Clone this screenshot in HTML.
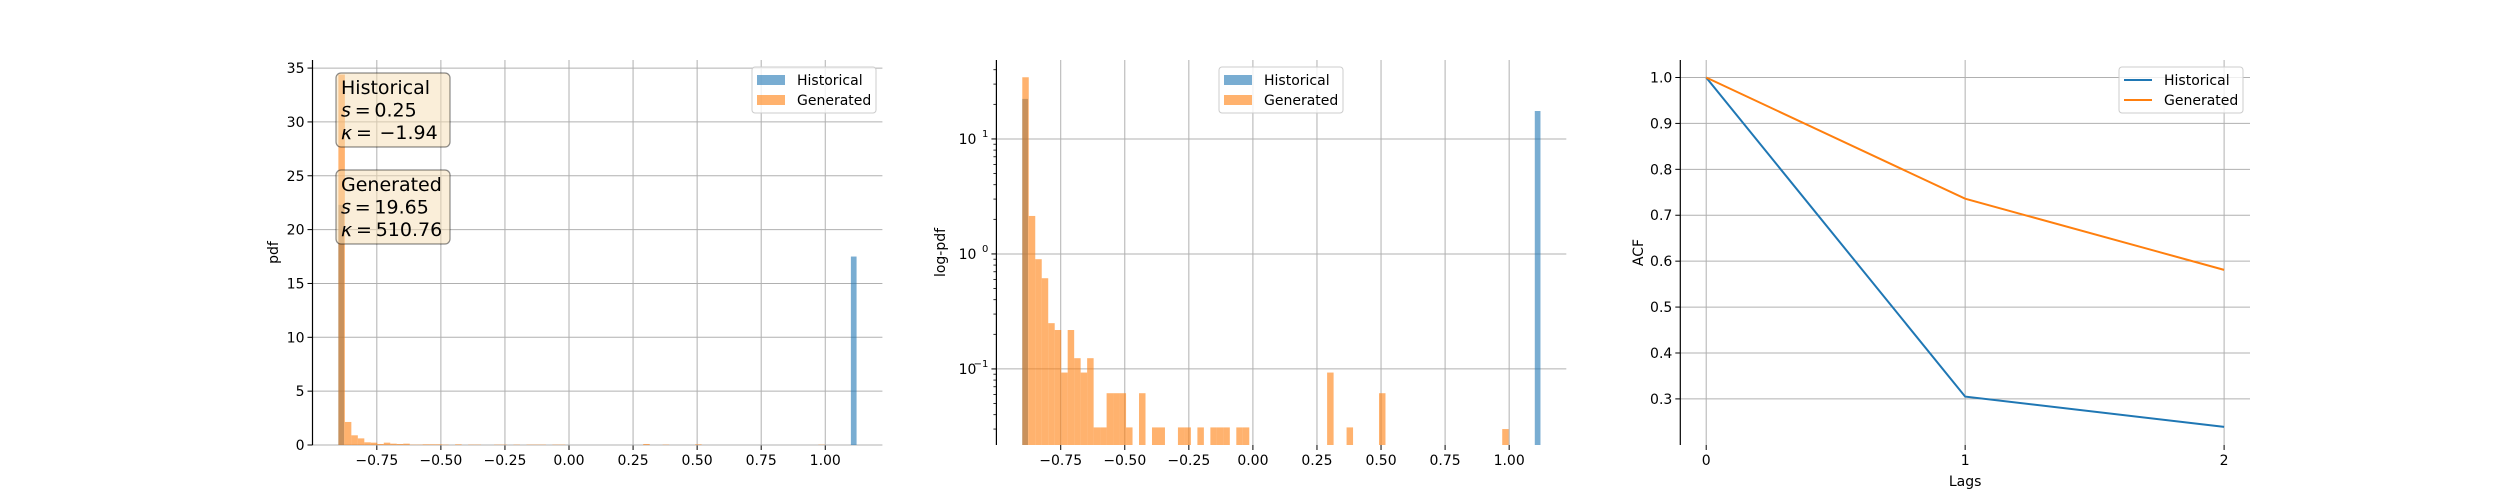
<!DOCTYPE html>
<html><head><meta charset="utf-8"><style>
html,body{margin:0;padding:0;background:#fff;}
svg{display:block;font-family:"DejaVu Sans","Liberation Sans",sans-serif;}
</style></head><body>
<svg id="fig" width="2500" height="500" viewBox="0 0 2500 500" xmlns="http://www.w3.org/2000/svg">
<rect x="0" y="0" width="2500" height="500" fill="#fff"/>
</svg>
<script>
// ---- data ----
const genStart = -0.9;
const genBinWidth = 0.02531;
const genValues = [34.4,2.14,0.90,0.615,0.25,0.218,0.093,0.218,0.124,0.093,0.124,0.031,0.031,0.0615,0.0615,0.0615,0.031,0,0.0615,0,0.031,0.031,0,0,0.031,0.031,0,0.031,0,0.031,0.031,0.031,0,0.031,0.031,0,0,0,0,0,0,0,0,0,0,0,0,0.093,0,0,0.031,0,0,0,0,0.0615,0,0,0,0,0,0,0,0,0,0,0,0,0,0,0,0,0,0,0.030];
const histLefts = [-0.9, 1.1];
const histValues = [22.3, 17.5];
const histBinWidth = 0.0222;
const xTicks = [-0.75,-0.5,-0.25,0,0.25,0.5,0.75,1.0];
const xTickLabels = ["−0.75","−0.50","−0.25","0.00","0.25","0.50","0.75","1.00"];
const pdfTicks = [0,5,10,15,20,25,30,35];
const logTicks = [0.1,1,10];
const logTickExp = ["−1","0","1"];
const lags = [0,1,2];
const acfHist = [1.0,0.305,0.239];
const acfGen = [1.0,0.736,0.581];
const acfTicks = [0.3,0.4,0.5,0.6,0.7,0.8,0.9,1.0];

const NS="http://www.w3.org/2000/svg";
const svg=document.getElementById('fig');
function mk(tag,attrs,parent){const e=document.createElementNS(NS,tag);for(const k in attrs)e.setAttribute(k,attrs[k]);(parent||svg).appendChild(e);return e;}
const TOP=60,BOT=445;
const panels=[[312.5,882.4],[996.4,1566.3],[1680.3,2250]];
const BLUE="#1f77b4",ORANGE="#ff7f0e",GRID="#b0b0b0";

function histX(p){const [l,r]=panels[p];const lo=-1.001,hi=1.223;return v=>l+(v-lo)/(hi-lo)*(r-l);}
function tickLabel(g,x,y,txt,anchor){const t=mk('text',{x:x,y:y,'font-size':'14','text-anchor':anchor||'middle',fill:'#000'},g);t.textContent=txt;return t;}

// ---------- Panel 1 ----------
(function(){
 const g=mk('g',{});
 
 
 const X=histX(0);const [l,r]=panels[0];
 const Y=v=>BOT-(v/35.75)*(BOT-TOP);
 xTicks.forEach((v,i)=>{mk('line',{x1:X(v),x2:X(v),y1:TOP,y2:BOT,stroke:GRID,'stroke-width':1},g);mk('line',{x1:X(v),x2:X(v),y1:BOT,y2:BOT+5,stroke:'#000'},g);const t=tickLabel(g,X(v),BOT+20,xTickLabels[i]);});
 pdfTicks.forEach(v=>{mk('line',{x1:l,x2:r,y1:Y(v),y2:Y(v),stroke:GRID,'stroke-width':1},g);mk('line',{x1:l-5,x2:l,y1:Y(v),y2:Y(v),stroke:'#000'},g);const t=tickLabel(g,l-8,Y(v)+5,String(v),'end');});
 histValues.forEach((v,i)=>{const b=mk('rect',{x:X(histLefts[i]),y:Y(v),width:X(histLefts[i]+histBinWidth)-X(histLefts[i]),height:BOT-Y(v),fill:BLUE,'fill-opacity':0.6},g);});
 genValues.forEach((v,i)=>{if(!v)return;const x0=genStart+i*genBinWidth;const b=mk('rect',{x:X(x0),y:Y(v),width:X(x0+genBinWidth)-X(x0),height:BOT-Y(v),fill:ORANGE,'fill-opacity':0.6},g);});
 mk('line',{x1:l,x2:l,y1:TOP,y2:BOT,stroke:'#000','stroke-width':1.2},g);
 const yl=mk('text',{x:0,y:0,'font-size':'14','text-anchor':'middle',transform:`translate(278,${(TOP+BOT)/2}) rotate(-90)`},g);yl.textContent='pdf';
 
 // stat boxes
 const boxes=[[73,["Historical","s\u2009=\u20090.25","κ\u2009=\u2009\u2009−1.94"]],[170,["Generated","s\u2009=\u200919.65","κ\u2009=\u2009510.76"]]];
 boxes.forEach(([by,lines],bi)=>{const bg=mk('g',{},g);
  mk('rect',{x:336,y:by,width:114,height:74,rx:5,fill:'#f5deb3','fill-opacity':0.5,stroke:'#000','stroke-opacity':0.45,'stroke-width':1.2},bg);
  lines.forEach((s,k)=>{const t=mk('text',{x:341,y:by+21+k*22.5,'font-size':'19',fill:'#000'},bg);
   if(k==0){t.textContent=s;}else{const a=mk('tspan',{'font-style':'italic'},t);a.textContent=s[0];const b=mk('tspan',{},t);b.textContent=s.slice(1);}});
 });
 legend(g,752,67,'bar');
})();

// ---------- Panel 2 ----------
(function(){
 const g=mk('g',{});
 
 
 const X=histX(1);const [l,r]=panels[1];
 const lmin=Math.log10(0.0218),lmax=Math.log10(48.6);
 const Y=v=>BOT-(Math.log10(v)-lmin)/(lmax-lmin)*(BOT-TOP);
 xTicks.forEach((v,i)=>{mk('line',{x1:X(v),x2:X(v),y1:TOP,y2:BOT,stroke:GRID,'stroke-width':1},g);mk('line',{x1:X(v),x2:X(v),y1:BOT,y2:BOT+5,stroke:'#000'},g);const t=tickLabel(g,X(v),BOT+20,xTickLabels[i]);});
 logTicks.forEach((v,i)=>{mk('line',{x1:l,x2:r,y1:Y(v),y2:Y(v),stroke:GRID,'stroke-width':1},g);mk('line',{x1:l-5,x2:l,y1:Y(v),y2:Y(v),stroke:'#000'},g);
  const t=mk('text',{x:l-20,y:Y(v)+5,'font-size':'14','text-anchor':'end'},g);t.textContent='10';const s=mk('text',{x:l-8,y:Y(v)-2,'font-size':'10','text-anchor':'end'},g);s.textContent=logTickExp[i];});
 [0.01,0.1,1,10].forEach(d=>{for(let m=2;m<=9;m++){const v=d*m;if(v<0.0218||v>48.6)continue;mk('line',{x1:l-3,x2:l,y1:Y(v),y2:Y(v),stroke:'#000','stroke-width':0.8},g);}});
 histValues.forEach((v,i)=>{const b=mk('rect',{x:X(histLefts[i]),y:Y(v),width:X(histLefts[i]+histBinWidth)-X(histLefts[i]),height:BOT-Y(v),fill:BLUE,'fill-opacity':0.6},g);});
 genValues.forEach((v,i)=>{if(!v)return;const x0=genStart+i*genBinWidth;const b=mk('rect',{x:X(x0),y:Y(v),width:X(x0+genBinWidth)-X(x0),height:BOT-Y(v),fill:ORANGE,'fill-opacity':0.6},g);});
 mk('line',{x1:l,x2:l,y1:TOP,y2:BOT,stroke:'#000','stroke-width':1.2},g);
 const yl=mk('text',{x:0,y:0,'font-size':'14','text-anchor':'middle',transform:`translate(945,${(TOP+BOT)/2}) rotate(-90)`},g);yl.textContent='log-pdf';
 
 legend(g,1219,67,'bar');
})();

// ---------- Panel 3 ----------
(function(){
 const g=mk('g',{});
 
 
 const [l,r]=panels[2];
 const X=v=>l+(v+0.1)/2.2*(r-l);
 const Y=v=>BOT-(v-0.1996)/(1.0381-0.1996)*(BOT-TOP);
 lags.forEach(v=>{mk('line',{x1:X(v),x2:X(v),y1:TOP,y2:BOT,stroke:GRID,'stroke-width':1},g);mk('line',{x1:X(v),x2:X(v),y1:BOT,y2:BOT+5,stroke:'#000'},g);const t=tickLabel(g,X(v),BOT+20,String(v));});
 acfTicks.forEach(v=>{mk('line',{x1:l,x2:r,y1:Y(v),y2:Y(v),stroke:GRID,'stroke-width':1},g);mk('line',{x1:l-5,x2:l,y1:Y(v),y2:Y(v),stroke:'#000'},g);const t=tickLabel(g,l-8,Y(v)+5,v.toFixed(1),'end');});
 const ph=mk('polyline',{points:lags.map((v,i)=>X(v)+','+Y(acfHist[i])).join(' '),fill:'none',stroke:BLUE,'stroke-width':2},g);
 
 const pg=mk('polyline',{points:lags.map((v,i)=>X(v)+','+Y(acfGen[i])).join(' '),fill:'none',stroke:ORANGE,'stroke-width':2},g);
 
 mk('line',{x1:l,x2:l,y1:TOP,y2:BOT,stroke:'#000','stroke-width':1.2},g);
 const yl=mk('text',{x:0,y:0,'font-size':'14','text-anchor':'middle',transform:`translate(1643,${(TOP+BOT)/2}) rotate(-90)`},g);yl.textContent='ACF';
 
 const xl=mk('text',{x:(l+r)/2,y:486,'font-size':'14','text-anchor':'middle'},g);xl.textContent='Lags';
 
 legend(g,2119,67,'line');
})();

function legend(g,x,y,kind){
 const lg=mk('g',{},g);
 
 
 mk('rect',{x:x,y:y,width:124,height:46,rx:3,fill:'#fff','fill-opacity':0.8,stroke:'#ccc','stroke-width':1},lg);
 [["Historical",BLUE],["Generated",ORANGE]].forEach(([n,c],i)=>{
  const e=mk('g',{},lg);
  
  
  const cy=y+13+i*20;
  if(kind==='bar')mk('rect',{x:x+5,y:cy-5,width:28,height:10,fill:c,'fill-opacity':0.6},e);
  else mk('line',{x1:x+5,x2:x+33,y1:cy,y2:cy,stroke:c,'stroke-width':2},e);
  const t=mk('text',{x:x+45,y:cy+5,'font-size':'14',fill:'#000'},e);t.textContent=n;
 });
}
</script>
</body></html>
